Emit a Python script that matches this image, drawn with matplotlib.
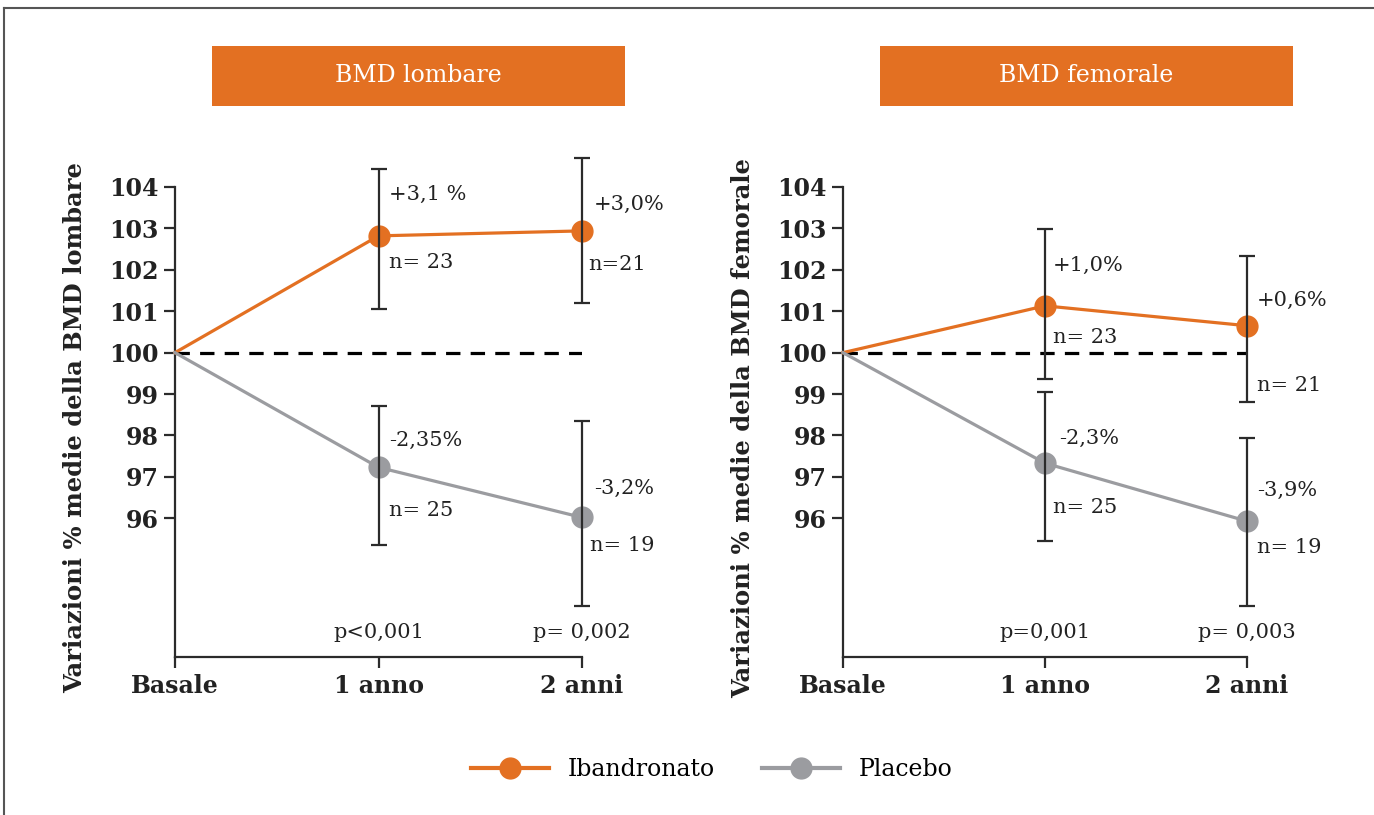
import numpy as np
import matplotlib.pyplot as plt
from matplotlib.patches import Rectangle
from matplotlib.lines import Line2D

# dati
timepoints = ["Basale", "1 anno", "2 anni"]
yticks = [96, 97, 98, 99, 100, 101, 102, 103, 104]

# BMD lombare
lomb_iband = [100, 102.82, 102.94]
lomb_iband_lo = [None, 101.06, 101.2]
lomb_iband_hi = [None, 104.43, 104.7]
lomb_plac = [100, 97.23, 96.02]
lomb_plac_lo = [None, 95.35, 93.88]
lomb_plac_hi = [None, 98.72, 98.36]
lomb_pct_iband = ["+3,1 %", "+3,0%"]
lomb_n_iband = ["n= 23", "n=21"]
lomb_pct_plac = ["-2,35%", "-3,2%"]
lomb_n_plac = ["n= 25", "n= 19"]
lomb_p = ["p<0,001", "p= 0,002"]

# BMD femorale
fem_iband = [100, 101.13, 100.65]
fem_iband_lo = [None, 99.37, 98.8]
fem_iband_hi = [None, 102.99, 102.34]
fem_plac = [100, 97.33, 95.93]
fem_plac_lo = [None, 95.45, 93.88]
fem_plac_hi = [None, 99.04, 97.93]
fem_pct_iband = ["+1,0%", "+0,6%"]
fem_n_iband = ["n= 23", "n= 21"]
fem_pct_plac = ["-2,3%", "-3,9%"]
fem_n_plac = ["n= 25", "n= 19"]
fem_p = ["p=0,001", "p= 0,003"]

ORANGE = "#E37022"
GREY = "#9B9CA0"
DARK = "#2b2b2b"
SERIF = "DejaVu Serif"

W, H = 1374, 815
fig = plt.figure(figsize=(W / 100, H / 100), dpi=100)


def fx(px):
    return px / W


def fy(py):
    return 1 - py / H


# cornice
fig.add_artist(Line2D([fx(4), fx(4)], [0, fy(8)], color="#555555", lw=1.5))
fig.add_artist(Line2D([fx(4), 1], [fy(8), fy(8)], color="#555555", lw=1.5))


def panel(x0, x1, title, ylabel, iband, ib_lo, ib_hi, plac, pl_lo, pl_hi,
          pct_ib, n_ib, pct_pl, n_pl, pvals, txt_pos):
    ax = fig.add_axes([fx(x0), fy(657), fx(x1) - fx(x0), (657 - 187) / H])
    x = np.arange(len(timepoints))
    ax.plot([0, 2], [100, 100], color="black", lw=2.3, dashes=(4.5, 3.2), zorder=2)
    ax.plot(x, iband, color=ORANGE, lw=2.3, marker="o", ms=15, markevery=[1, 2],
            zorder=3, clip_on=False)
    ax.plot(x, plac, color=GREY, lw=2.3, marker="o", ms=15, markevery=[1, 2],
            zorder=3, clip_on=False)
    for vals, lo, hi in [(iband, ib_lo, ib_hi), (plac, pl_lo, pl_hi)]:
        xs = x[1:]
        v = np.array(vals[1:])
        err = [v - np.array(lo[1:]), np.array(hi[1:]) - v]
        ax.errorbar(xs, v, yerr=err, fmt="none", ecolor=DARK, elinewidth=1.6,
                    capsize=6, capthick=1.6, zorder=4, clip_on=False)
    labels = pct_ib + n_ib + pct_pl + n_pl
    for lab, (tx, ty) in zip(labels, txt_pos):
        ax.text(tx, ty, lab, fontsize=15, family=SERIF, color="#222222",
                ha="left", va="center", zorder=5)
    for i, p in enumerate(pvals):
        ax.text(i + 1, 93.23, p, fontsize=15, family=SERIF, color="#222222",
                ha="center", va="center")
    ax.set_xlim(0, 2)
    ax.set_ylim(92.65, 104)
    ax.set_xticks(x)
    ax.set_xticklabels(timepoints)
    ax.set_yticks(yticks)
    ax.spines[["top", "right"]].set_visible(False)
    for s in ["left", "bottom"]:
        ax.spines[s].set_linewidth(1.6)
        ax.spines[s].set_color(DARK)
    ax.tick_params(direction="out", length=8, width=1.6, color=DARK, pad=4)
    for t in ax.get_xticklabels() + ax.get_yticklabels():
        t.set_fontfamily(SERIF)
        t.set_fontweight("bold")
        t.set_fontsize(17)
        t.set_color("#222222")
    # titolo
    fig.add_artist(Rectangle((fx(title[1]), fy(106)), fx(413), 60 / H,
                             transform=fig.transFigure, color=ORANGE, lw=0))
    fig.text(fx(title[1] + 206), fy(76), title[0], color="white", fontsize=17,
             family=SERIF, ha="center", va="center")
    fig.text(fx(x0 - 100), fy(428), ylabel, rotation=90, fontsize=17.5,
             family=SERIF, fontweight="bold", color="#222222",
             ha="center", va="center")
    return ax


panel(175, 582, ("BMD lombare", 212), "Variazioni % medie della BMD lombare",
      lomb_iband, lomb_iband_lo, lomb_iband_hi, lomb_plac, lomb_plac_lo, lomb_plac_hi,
      lomb_pct_iband, lomb_n_iband, lomb_pct_plac, lomb_n_plac, lomb_p,
      [(1.05, 103.83), (2.06, 103.59), (1.05, 102.17), (2.03, 102.14),
       (1.05, 97.88), (2.06, 96.72), (1.05, 96.19), (2.04, 95.35)])

panel(843, 1247, ("BMD femorale", 880), "Variazioni % medie della BMD femorale",
      fem_iband, fem_iband_lo, fem_iband_hi, fem_plac, fem_plac_lo, fem_plac_hi,
      fem_pct_iband, fem_n_iband, fem_pct_plac, fem_n_plac, fem_p,
      [(1.04, 102.1), (2.05, 101.25), (1.04, 100.36), (2.05, 99.2),
       (1.07, 97.93), (2.05, 96.67), (1.04, 96.27), (2.05, 95.3)])

handles = [Line2D([], [], color=ORANGE, lw=3, marker="o", ms=15),
           Line2D([], [], color=GREY, lw=3, marker="o", ms=15)]
leg = fig.legend(handles, ["Ibandronato", "Placebo"], loc="center",
                 bbox_to_anchor=(fx(712), fy(770)), ncol=2, frameon=False,
                 handlelength=3.3, columnspacing=2.0, handletextpad=0.8,
                 prop={"family": SERIF, "size": 17})

fig.savefig("out.png", dpi=100)
